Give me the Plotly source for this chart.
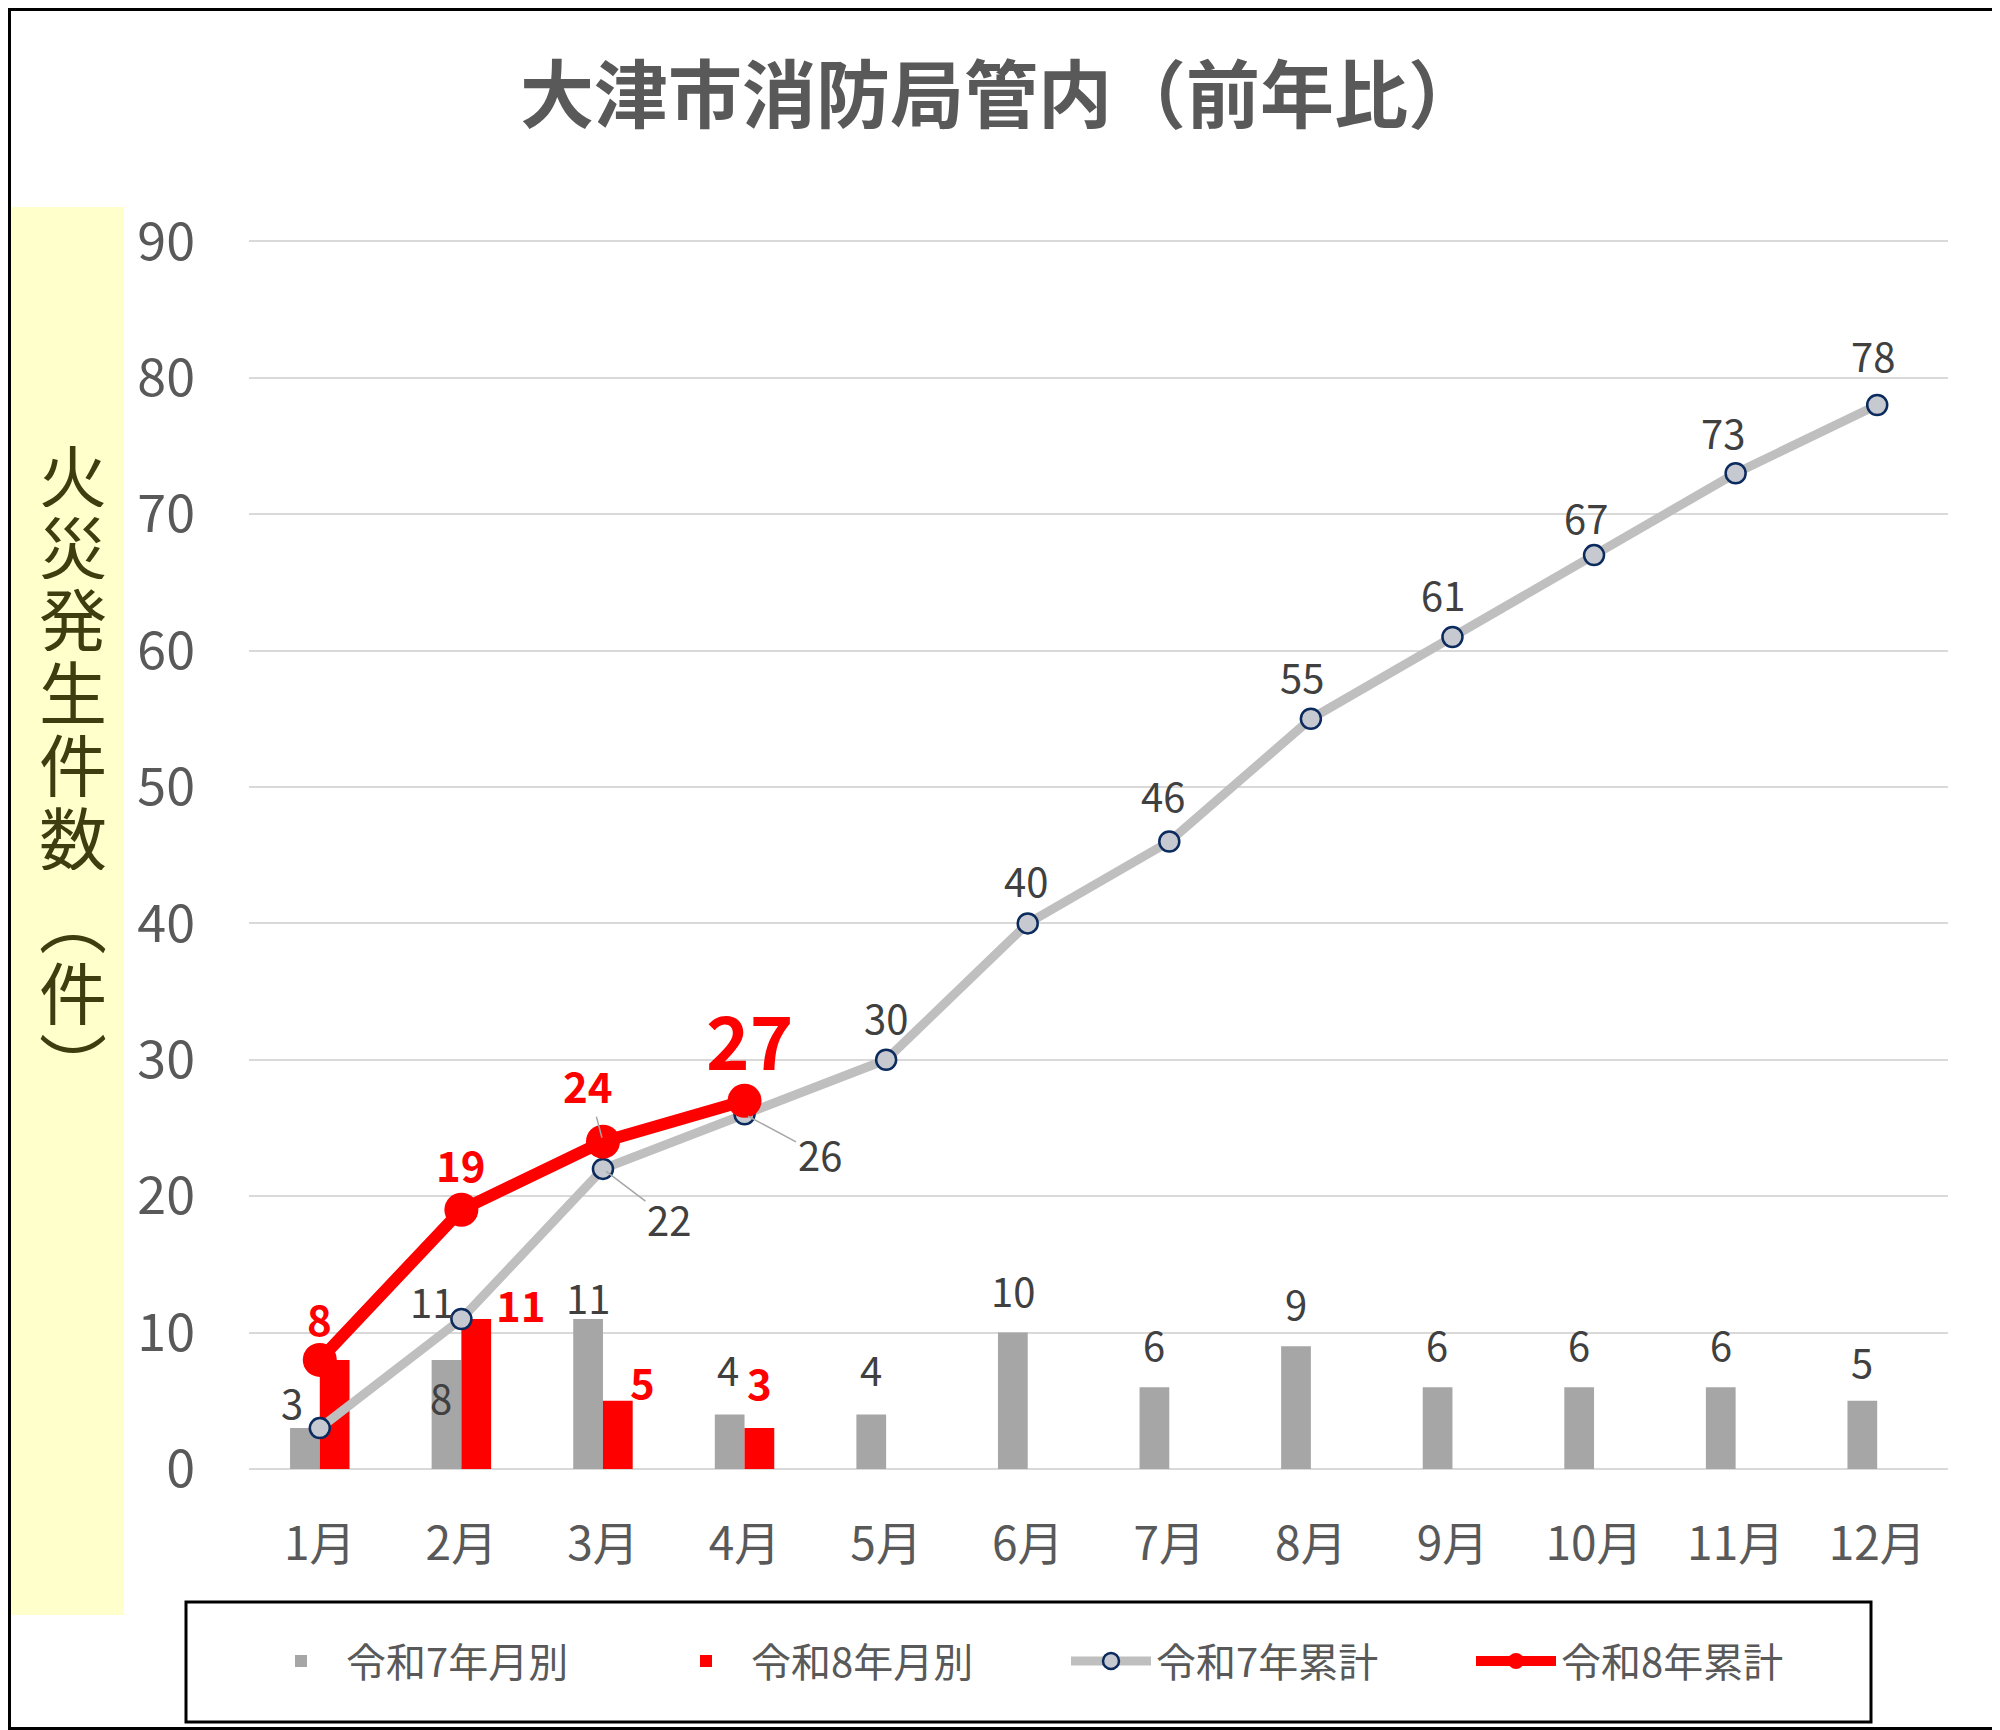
import plotly.graph_objects as go

# ================= DATA =================
MONTHS = ["1月", "2月", "3月", "4月", "5月", "6月", "7月", "8月", "9月", "10月", "11月", "12月"]
R7_MONTHLY = [3, 8, 11, 4, 4, 10, 6, 9, 6, 6, 6, 5]
R8_MONTHLY = [8, 11, 5, 3]
R7_CUMUL = [3, 11, 22, 26, 30, 40, 46, 55, 61, 67, 73, 78]
R8_CUMUL = [8, 19, 24, 27]

NAME_R7_M = "令和7年月別"
NAME_R8_M = "令和8年月別"
NAME_R7_C = "令和7年累計"
NAME_R8_C = "令和8年累計"
TITLE = "大津市消防局管内（前年比）"
Y_TITLE = ["火", "災", "発", "生", "件", "数", "︵", "件", "︶"]
# ========================================

FONT = "Noto Sans CJK JP"
PAGE_W, PAGE_H = 2000, 1730
OFF = 8  # page body margin of the html page
W, H = PAGE_W - OFF, PAGE_H - OFF
# plot area in page pixels
L, R, T, B = 249, 1948, 240, 1469

GRAY_BAR = "#a6a6a6"
GRAY_LINE = "#bfbfbf"
RED = "#ff0000"
TXT = "#595959"
LBL = "#404040"


def fx(px):
    return (px - L) / (R - L)


def fy(py):
    return (B - py) / (B - T)


# label offsets in pixels (dx right, dy up); None = no label
off_r7_m = [None, (-20, -37), (-15, 22), (-17, 45), (-15, 45), (-15, 43),
            (-15, 43), (-15, 43), (-15, 43), (-15, 43), (-15, 43), (-15, 40)]
off_r8_m = [None, (60, 15), (40, 20), (15, 47)]
off_r7_c = [(-28, 26), (-29, 18), None, None, (0, 43), (-2, 43),
            (-6, 47), (-9, 43), (-9, 43), (-8, 38), (-13, 41), (-4, 50)]
leader_r7_c = {2: (66, 50), 3: (75, 40)}
off_r8_c = [(0, 42), (0, 46), None, (5, 63)]
leader_r8_c = {2: (-15, -57)}

fig = go.Figure()
fig.add_trace(go.Bar(x=MONTHS, y=R7_MONTHLY, name=NAME_R7_M,
                     marker=dict(color=GRAY_BAR, line=dict(width=0))))
fig.add_trace(go.Bar(x=MONTHS[:len(R8_MONTHLY)], y=R8_MONTHLY, name=NAME_R8_M,
                     marker=dict(color=RED, line=dict(width=0))))
fig.add_trace(go.Scatter(x=MONTHS, y=R7_CUMUL, name=NAME_R7_C, mode="lines+markers",
                         line=dict(color=GRAY_LINE, width=9),
                         marker=dict(size=20, color="#c6c9cf",
                                     line=dict(color="#0b2a5e", width=2.5))))
fig.add_trace(go.Scatter(x=MONTHS[:len(R8_CUMUL)], y=R8_CUMUL, name=NAME_R8_C,
                         mode="lines+markers",
                         line=dict(color=RED, width=12),
                         marker=dict(size=34, color=RED)))

ann = []


def add_label(x, y, text, off, color, size, bold=False):
    t = f"<b>{text}</b>" if bold else str(text)
    ann.append(dict(x=x, y=y, xref="x", yref="y", text=t, showarrow=False,
                    xshift=off[0], yshift=off[1],
                    font=dict(family=FONT, size=size, color=color)))


def add_leader(x, y, text, off, color, size, bold=False):
    t = f"<b>{text}</b>" if bold else str(text)
    ann.append(dict(x=x, y=y, xref="x", yref="y", text=t, showarrow=True,
                    ax=off[0], ay=off[1], arrowhead=0, arrowwidth=1.5,
                    arrowcolor="#a6a6a6", standoff=4,
                    font=dict(family=FONT, size=size, color=color)))


for i, v in enumerate(R7_MONTHLY):
    if off_r7_m[i]:
        add_label(MONTHS[i], v, v, off_r7_m[i], LBL, 40)
for i, v in enumerate(R8_MONTHLY):
    if off_r8_m[i]:
        add_label(MONTHS[i], v, v, off_r8_m[i], RED, 42, bold=True)
for i, v in enumerate(R7_CUMUL):
    if i in leader_r7_c:
        add_leader(MONTHS[i], v, v, leader_r7_c[i], LBL, 40)
    elif off_r7_c[i]:
        add_label(MONTHS[i], v, v, off_r7_c[i], LBL, 40)
for i, v in enumerate(R8_CUMUL):
    big = i == len(R8_CUMUL) - 1
    if i in leader_r8_c:
        add_leader(MONTHS[i], v, v, leader_r8_c[i], RED, 42, bold=True)
    else:
        add_label(MONTHS[i], v, v, off_r8_c[i], RED, 74 if big else 42, bold=True)

# vertical y-axis title inside the yellow band, one character per box
y_pos = [472, 544, 616, 689, 762, 835, 918, 990, 1062]
for ch, py in zip(Y_TITLE, y_pos):
    ann.append(dict(x=fx(73), y=fy(py), xref="paper", yref="paper", text=ch,
                    showarrow=False, xanchor="center", yanchor="middle",
                    height=70, valign="middle",
                    font=dict(family=FONT, size=68, color="#3d3d10")))

shapes = [
    dict(type="rect", xref="paper", yref="paper", layer="below",
         x0=fx(3), x1=fx(124), y0=fy(1615), y1=fy(207),
         fillcolor="#ffffcc", line=dict(width=0)),
    dict(type="rect", xref="paper", yref="paper",
         x0=fx(186), x1=fx(1871), y0=fy(1722), y1=fy(1602),
         line=dict(color="black", width=3)),
    dict(type="rect", xref="paper", yref="paper",
         x0=fx(OFF + 1.5), x1=fx(PAGE_W - 1.5), y0=fy(PAGE_H - 1.5), y1=fy(OFF + 1.5),
         line=dict(color="black", width=3)),
]

fig.update_layout(
    width=W, height=H,
    margin=dict(l=L - OFF, r=PAGE_W - R, t=T - OFF, b=PAGE_H - B),
    paper_bgcolor="white", plot_bgcolor="white",
    font=dict(family=FONT, color=TXT),
    title=dict(text=f"<b>{TITLE}</b>", x=(1001 - OFF) / W, y=1 - (96 - OFF) / H,
               xanchor="center", yanchor="middle",
               font=dict(family=FONT, size=74, color=TXT)),
    barmode="group", bargap=0.58, bargroupgap=0,
    showlegend=True,
    legend=dict(orientation="h", x=fx(256), y=fy(1661),
                xanchor="left", yanchor="middle",
                entrywidth=310, entrywidthmode="pixels", itemwidth=80,
                bgcolor="rgba(0,0,0,0)",
                font=dict(family=FONT, size=40, color=TXT)),
    xaxis=dict(type="category", range=[-0.5, 11.5], showgrid=False, showline=False,
               zeroline=False, ticks="", ticklabelstandoff=44,
               tickfont=dict(family=FONT, size=46, color=TXT)),
    yaxis=dict(range=[0, 90.1], dtick=10, showgrid=True, gridcolor="#d9d9d9",
               gridwidth=2, zeroline=True, zerolinecolor="#d9d9d9", zerolinewidth=2,
               showline=False, ticks="", ticklabelstandoff=53,
               tickfont=dict(family=FONT, size=52, color=TXT)),
    annotations=ann,
    shapes=shapes,
)

fig.write_html("out.html")
